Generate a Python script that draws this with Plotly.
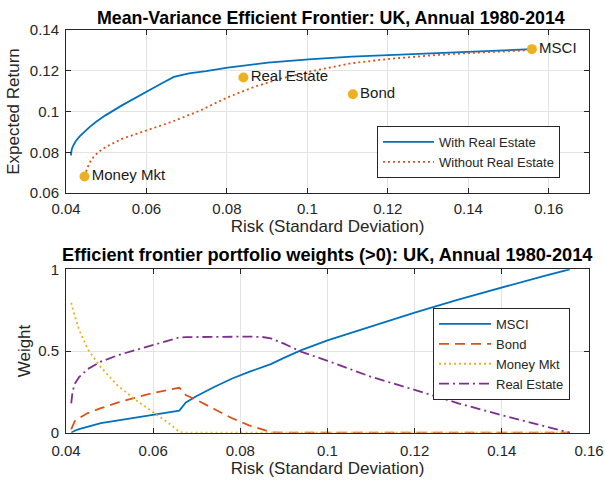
import plotly.graph_objects as go

# ---------------- Data ----------------
# Top panel: efficient frontiers (risk = std dev, return = expected return)
risk_with_re = [0.0412, 0.04126, 0.04144, 0.0418, 0.04245, 0.0434, 0.0445, 0.0457, 0.0475, 0.0498,
                0.0539, 0.0598, 0.0635, 0.0668, 0.0706, 0.0748, 0.0802, 0.0902, 0.1003, 0.1110,
                0.1203, 0.1318, 0.1406, 0.1534, 0.1558]
ret_with_re = [0.0784, 0.0800, 0.0815, 0.0833, 0.0855, 0.0878, 0.0900, 0.0921, 0.0950, 0.0981,
               0.1030, 0.1096, 0.1135, 0.1170, 0.1187, 0.1198, 0.1215, 0.1240, 0.1256, 0.1269,
               0.1277, 0.1287, 0.1294, 0.1303, 0.1306]

risk_without_re = [0.0446, 0.0449, 0.0452, 0.0458, 0.0464, 0.0480, 0.0498, 0.0539, 0.0598, 0.0664,
                   0.0735, 0.0802, 0.0868, 0.0935, 0.1003, 0.1110, 0.1203, 0.1318, 0.1406,
                   0.1534, 0.1558]
ret_without_re = [0.0681, 0.0700, 0.0718, 0.0745, 0.0767, 0.0800, 0.0825, 0.0866, 0.0907, 0.0950,
                  0.1006, 0.1070, 0.1121, 0.1162, 0.1195, 0.1237, 0.1258, 0.1277, 0.1287,
                  0.1299, 0.1306]

assets = ["Money Mkt", "Real Estate", "Bond", "MSCI"]
asset_risk = [0.0446, 0.0841, 0.1113, 0.1558]
asset_ret = [0.0681, 0.1167, 0.1085, 0.1306]

# Bottom panel: portfolio weights along the frontier
w_risk = [0.0412, 0.0415, 0.0420, 0.0430, 0.0450, 0.0480, 0.0520, 0.0560, 0.0600, 0.0640,
          0.0660, 0.0675, 0.0700, 0.0740, 0.0780, 0.0820, 0.0850, 0.0870, 0.0900, 0.0940,
          0.1000, 0.1100, 0.1200, 0.1300, 0.1400, 0.1500, 0.1556]
w_msci = [0.000, 0.005, 0.012, 0.022, 0.038, 0.058, 0.075, 0.092, 0.108, 0.125,
          0.135, 0.185, 0.225, 0.280, 0.330, 0.372, 0.400, 0.420, 0.458, 0.505,
          0.565, 0.650, 0.735, 0.815, 0.890, 0.962, 1.000]
w_bond = [0.020, 0.040, 0.070, 0.090, 0.120, 0.150, 0.185, 0.215, 0.243, 0.265,
          0.275, 0.230, 0.200, 0.145, 0.090, 0.045, 0.018, 0.003, 0.000, 0.000,
          0.000, 0.000, 0.000, 0.000, 0.000, 0.000, 0.000]
w_money = [0.795, 0.770, 0.715, 0.630, 0.510, 0.400, 0.285, 0.200, 0.125, 0.050,
           0.005, 0.000, 0.000, 0.000, 0.000, 0.000, 0.000, 0.000, 0.000, 0.000,
           0.000, 0.000, 0.000, 0.000, 0.000, 0.000, 0.000]
w_re = [0.180, 0.250, 0.300, 0.340, 0.390, 0.435, 0.475, 0.505, 0.538, 0.568,
        0.583, 0.585, 0.586, 0.587, 0.588, 0.588, 0.586, 0.577, 0.545, 0.495,
        0.440, 0.342, 0.262, 0.180, 0.107, 0.040, 0.000]

# ---------------- Styling ----------------
FONT = "Liberation Sans, Arial, Helvetica, sans-serif"
BLUE = "#0072BD"
ORANGE = "#D95319"
YELLOW = "#EDB120"
PURPLE = "#7E2F8E"
AX = "#262626"
GRID = "#e3e3e3"
W, H = 605, 480

def px_x(p):
    return p / W

def px_y(p):
    return 1 - p / H

fig = go.Figure()

# Top panel traces
fig.add_trace(go.Scatter(x=risk_with_re, y=ret_with_re, mode="lines", name="With Real Estate",
                         line=dict(color=BLUE, width=1.8), xaxis="x", yaxis="y", legend="legend"))
fig.add_trace(go.Scatter(x=risk_without_re, y=ret_without_re, mode="lines", name="Without Real Estate",
                         line=dict(color=ORANGE, width=1.8, dash="2px,3px"), xaxis="x", yaxis="y",
                         legend="legend"))
fig.add_trace(go.Scatter(x=asset_risk, y=asset_ret, mode="markers+text", text=assets,
                         textposition="middle right", showlegend=False,
                         textfont=dict(family=FONT, size=15, color="#1a1a1a"),
                         marker=dict(color=YELLOW, size=10, line=dict(color=YELLOW, width=0)),
                         xaxis="x", yaxis="y"))

# Bottom panel traces
fig.add_trace(go.Scatter(x=w_risk, y=w_msci, mode="lines", name="MSCI",
                         line=dict(color=BLUE, width=1.8), xaxis="x2", yaxis="y2", legend="legend2"))
fig.add_trace(go.Scatter(x=w_risk, y=w_bond, mode="lines", name="Bond",
                         line=dict(color=ORANGE, width=1.8, dash="10px,6px"), xaxis="x2", yaxis="y2",
                         legend="legend2"))
fig.add_trace(go.Scatter(x=w_risk, y=w_money, mode="lines", name="Money Mkt",
                         line=dict(color=YELLOW, width=1.8, dash="2px,3px"), xaxis="x2", yaxis="y2",
                         legend="legend2"))
fig.add_trace(go.Scatter(x=w_risk, y=w_re, mode="lines", name="Real Estate",
                         line=dict(color=PURPLE, width=1.8, dash="10px,4px,2px,4px"), xaxis="x2", yaxis="y2",
                         legend="legend2"))

axis_common = dict(showline=True, linecolor=AX, linewidth=1, mirror="ticks", ticks="inside",
                   ticklen=5, tickcolor=AX, showgrid=True, gridcolor=GRID, gridwidth=1,
                   zeroline=False, automargin=False,
                   tickfont=dict(family=FONT, size=15, color=AX))

x_dom = [px_x(66), px_x(589)]
title_font = dict(family=FONT, size=17, color=AX)

fig.update_layout(
    width=W, height=H,
    margin=dict(l=0, r=0, t=0, b=0),
    paper_bgcolor="white", plot_bgcolor="white",
    font=dict(family=FONT, color=AX),
    xaxis=dict(domain=x_dom, range=[0.04, 0.17], tick0=0.04, dtick=0.02, anchor="y",
               ticklabelstandoff=2,
               title=dict(text="Risk (Standard Deviation)", font=title_font, standoff=3),
               **axis_common),
    yaxis=dict(domain=[px_y(193), px_y(30)], range=[0.06, 0.14], tick0=0.06, dtick=0.02, anchor="x",
               ticklabelstandoff=3,
               title=dict(text="Expected Return", font=title_font, standoff=5),
               **axis_common),
    xaxis2=dict(domain=x_dom, range=[0.04, 0.16], tick0=0.04, dtick=0.02, anchor="y2",
                ticklabelstandoff=4,
                title=dict(text="Risk (Standard Deviation)", font=title_font, standoff=2),
                **axis_common),
    yaxis2=dict(domain=[px_y(432.7), px_y(269.3)], range=[0, 1], tick0=0, dtick=0.5, anchor="x2",
                ticklabelstandoff=3,
                title=dict(text="Weight", font=title_font, standoff=3),
                **axis_common),
    legend=dict(x=px_x(377), y=px_y(126), xanchor="left", yanchor="top",
                bgcolor="white", bordercolor=AX, borderwidth=1,
                font=dict(family=FONT, size=13, color=AX), itemwidth=51, tracegroupgap=0),
    legend2=dict(x=px_x(433), y=px_y(308), xanchor="left", yanchor="top",
                 bgcolor="white", bordercolor=AX, borderwidth=1,
                 font=dict(family=FONT, size=13, color=AX), itemwidth=52, tracegroupgap=0),
    annotations=[
        dict(text="<b>Mean-Variance Efficient Frontier: UK, Annual 1980-2014</b>",
             x=(x_dom[0] + x_dom[1]) / 2 + 0.006, y=px_y(18), xref="paper", yref="paper",
             xanchor="center", yanchor="middle", showarrow=False,
             font=dict(family=FONT, size=17.8, color="#000000")),
        dict(text="<b>Efficient frontier portfolio weights (>0): UK, Annual 1980-2014</b>",
             x=(x_dom[0] + x_dom[1]) / 2, y=px_y(255), xref="paper", yref="paper",
             xanchor="center", yanchor="middle", showarrow=False,
             font=dict(family=FONT, size=18.2, color="#000000")),
    ],
)

fig.write_html("out.html")
